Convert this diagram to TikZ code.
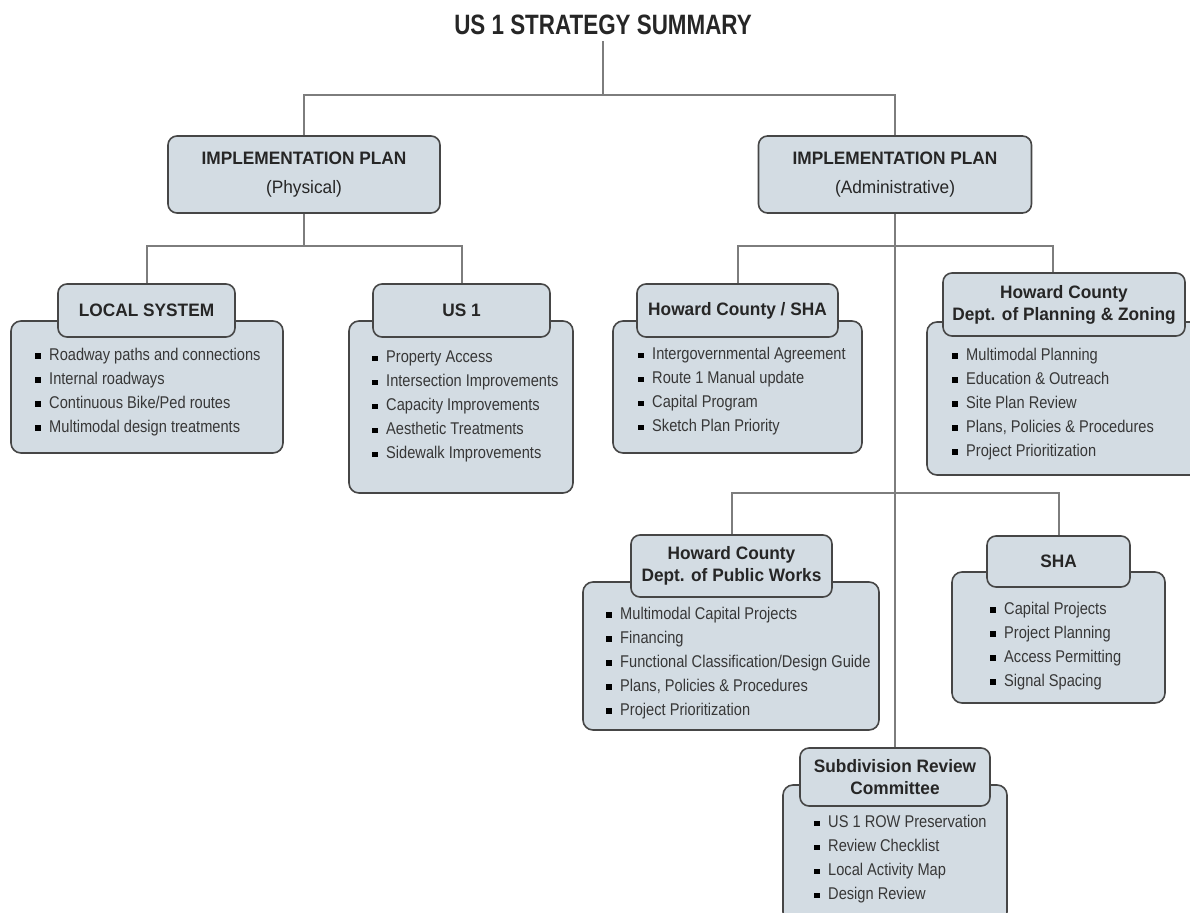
\documentclass[tikz,border=0pt]{standalone}
\usepackage{fontspec}
\setmainfont{Liberation Sans}[FakeStretch=0.86]
\newfontfamily\headfont{Liberation Sans}[FakeStretch=0.96]
\newfontfamily\titlefont{Liberation Sans}[FakeStretch=0.8]
\definecolor{box fill}{RGB}{211,220,227}
\definecolor{box line}{RGB}{70,70,70}
\definecolor{link gray}{RGB}{125,125,125}
\definecolor{item gray}{RGB}{55,55,55}
\newcommand{\bsq}{{\color{black}\rule[1.5pt]{5.5pt}{5.5pt}}\hspace{8.5pt}}

\begin{document}
\begin{tikzpicture}[x=1pt, y=-1pt,
    boxbody/.style={draw=box line, line width=1.6pt, fill=box fill, rounded corners=10pt, inner sep=0pt},
    boxtab/.style={boxbody, rounded corners=9pt, align=center, text=black!85, font=\headfont\bfseries\fontsize{18}{22}\selectfont},
    itemlist/.style={inner sep=0pt, anchor=west, align=left, text=item gray, font=\fontsize{17}{24}\selectfont},
    linkline/.style={draw=link gray, line width=2pt}]
  \useasboundingbox (0,0) rectangle (1190,912);

  \node[font=\titlefont\bfseries\fontsize{28}{28}\selectfont, text=black!85, inner sep=6pt] (title) at (603,25) {US 1 STRATEGY SUMMARY};

  % implementation plans
  \node[boxtab, minimum width=272pt, minimum height=77pt, font=\headfont\fontsize{18}{29}\selectfont] (phys) at (304,174.5) {\textbf{IMPLEMENTATION PLAN}\\(Physical)};
  \node[boxtab, minimum width=273pt, minimum height=77pt, font=\headfont\fontsize{18}{29}\selectfont] (admin) at (895,174.5) {\textbf{IMPLEMENTATION PLAN}\\(Administrative)};

  % physical side
  \node[boxbody, minimum width=272pt, minimum height=132pt] (lsbody) at (147,387) {};
  \node[boxtab, minimum width=177pt, minimum height=53pt] (ls) at (146.5,310.5) {LOCAL SYSTEM};
  \node[itemlist] (lslist) at (35,392) {\bsq Roadway paths and connections\\\bsq Internal roadways\\\bsq Continuous Bike/Ped routes\\\bsq Multimodal design treatments};

  \node[boxbody, minimum width=224pt, minimum height=172pt] (usbody) at (461,407) {};
  \node[boxtab, minimum width=177pt, minimum height=53pt] (us) at (461.5,310.5) {US 1};
  \node[itemlist] (uslist) at (372,406.5) {\bsq Property Access\\\bsq Intersection Improvements\\\bsq Capacity Improvements\\\bsq Aesthetic Treatments\\\bsq Sidewalk Improvements};

  % administrative side
  \node[boxbody, minimum width=249pt, minimum height=132pt] (hcsbody) at (737.5,387) {};
  \node[boxtab, minimum width=201pt, minimum height=53pt] (hcs) at (737.5,310.5) {Howard County / SHA};
  \node[itemlist] (hcslist) at (638,391.5) {\bsq Intergovernmental Agreement\\\bsq Route 1 Manual update\\\bsq Capital Program\\\bsq Sketch Plan Priority};

  \node[boxbody, minimum width=274pt, minimum height=153pt] (dpzbody) at (1064,398.5) {};
  \node[boxtab, minimum width=242pt, minimum height=63pt] (dpz) at (1064,304.5) {Howard County\\Dept. of Planning \& Zoning};
  \node[itemlist] (dpzlist) at (952,404) {\bsq Multimodal Planning\\\bsq Education \& Outreach\\\bsq Site Plan Review\\\bsq Plans, Policies \& Procedures\\\bsq Project Prioritization};

  \node[boxbody, minimum width=296pt, minimum height=148pt] (dpwbody) at (731,656) {};
  \node[boxtab, minimum width=201pt, minimum height=62pt] (dpw) at (731.5,566) {Howard County\\Dept. of Public Works};
  \node[itemlist] (dpwlist) at (606,663) {\bsq Multimodal Capital Projects\\\bsq Financing\\\bsq Functional Classification/Design Guide\\\bsq Plans, Policies \& Procedures\\\bsq Project Prioritization};

  \node[boxbody, minimum width=213pt, minimum height=131pt] (shabody) at (1058.5,637.5) {};
  \node[boxtab, minimum width=143pt, minimum height=51pt] (sha) at (1058.5,561.5) {SHA};
  \node[itemlist] (shalist) at (990,646) {\bsq Capital Projects\\\bsq Project Planning\\\bsq Access Permitting\\\bsq Signal Spacing};

  \node[boxbody, minimum width=224pt, minimum height=137pt] (srcbody) at (895,853.5) {};
  \node[boxtab, minimum width=190pt, minimum height=58pt] (src) at (895,777) {Subdivision Review\\Committee};
  \node[itemlist] (srclist) at (814,859.5) {\bsq US 1 ROW Preservation\\\bsq Review Checklist\\\bsq Local Activity Map\\\bsq Design Review};

  % connectors
  \coordinate (top) at (603,95);
  \coordinate (physjoin) at (304,246);
  \coordinate (adminjoin) at (895,246);
  \coordinate (lowjoin) at (895,493);
  \draw[linkline] (title) -- (top);
  \draw[linkline] (phys) |- (top) -| (admin);
  \draw[linkline] (phys) -- (physjoin);
  \draw[linkline] (ls) |- (physjoin) -| (us);
  \draw[linkline] (admin) -- (src);
  \draw[linkline] (hcs) |- (adminjoin) -| ([xshift=-11pt]dpz.north);
  \draw[linkline] (dpw) |- (lowjoin) -| (sha);
\end{tikzpicture}
\end{document}
